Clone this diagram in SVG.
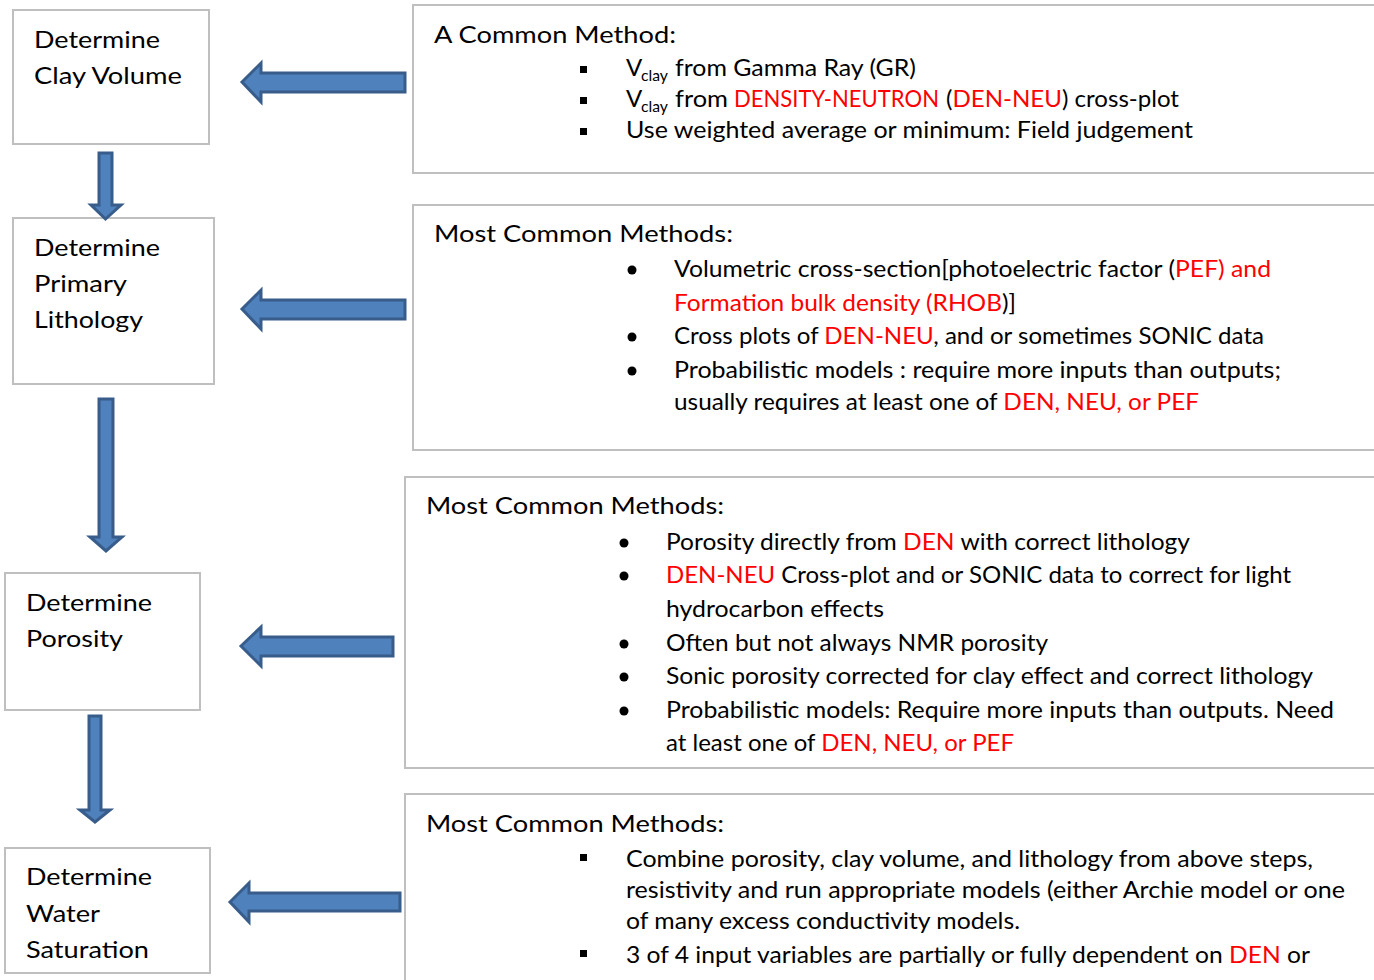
<svg xmlns="http://www.w3.org/2000/svg" width="1374" height="980" viewBox="0 0 1374 980">
  <style>
    .box { fill: #FFFFFF; stroke: #BFBFBF; stroke-width: 2; }
    .arrow { fill: #4F81BD; stroke: #385D8A; stroke-width: 3; stroke-linejoin: miter; }
    text { font-family: Lato, "Open Sans", "Liberation Sans", sans-serif; font-size: 24px; fill: #000000; }
    .sub { font-size: 16px; }
    .red { fill: #FF0000; }
    .sq { fill: #000000; }
  </style>
  <rect width="1374" height="980" fill="#FFFFFF"/>

  <!-- Process steps (left column) -->
  <g id="step-clay-volume">
    <rect class="box" x="13" y="10" width="196" height="134"/>
    <text x="34" y="48" textLength="126" lengthAdjust="spacingAndGlyphs">Determine</text>
    <text x="34" y="84" textLength="148" lengthAdjust="spacingAndGlyphs">Clay Volume</text>
  </g>
  <g id="step-lithology">
    <rect class="box" x="13" y="218" width="201" height="166"/>
    <text x="34" y="256" textLength="126" lengthAdjust="spacingAndGlyphs">Determine</text>
    <text x="34" y="292" textLength="93" lengthAdjust="spacingAndGlyphs">Primary</text>
    <text x="34" y="328" textLength="109" lengthAdjust="spacingAndGlyphs">Lithology</text>
  </g>
  <g id="step-porosity">
    <rect class="box" x="5" y="573" width="195" height="137"/>
    <text x="26" y="611" textLength="126" lengthAdjust="spacingAndGlyphs">Determine</text>
    <text x="26" y="647" textLength="97" lengthAdjust="spacingAndGlyphs">Porosity</text>
  </g>
  <g id="step-saturation">
    <rect class="box" x="5" y="848" width="205" height="125"/>
    <text x="26" y="885" textLength="126" lengthAdjust="spacingAndGlyphs">Determine</text>
    <text x="26" y="922" textLength="74" lengthAdjust="spacingAndGlyphs">Water</text>
    <text x="26" y="958" textLength="123" lengthAdjust="spacingAndGlyphs">Saturation</text>
  </g>

  <!-- Method notes (right column) -->
  <g id="methods-clay-volume">
    <rect class="box" x="413" y="5" width="980" height="168"/>
    <text x="434" y="43" textLength="242" lengthAdjust="spacingAndGlyphs">A Common Method:</text>
    <rect class="sq" x="580" y="66" width="7" height="7"/>
    <text x="626" y="76">V</text>
    <text class="sub" x="641" y="81" textLength="27" lengthAdjust="spacingAndGlyphs">clay</text>
    <text x="675" y="76" textLength="241" lengthAdjust="spacingAndGlyphs">from Gamma Ray (GR)</text>
    <rect class="sq" x="580" y="97" width="7" height="7"/>
    <text x="626" y="107">V</text>
    <text class="sub" x="641" y="112" textLength="27" lengthAdjust="spacingAndGlyphs">clay</text>
    <text x="675" y="107" textLength="53" lengthAdjust="spacingAndGlyphs">from</text>
    <text class="red" x="734" y="107" style="font-size:23px" textLength="205" lengthAdjust="spacingAndGlyphs">DENSITY-NEUTRON</text>
    <text x="946" y="107" textLength="233" lengthAdjust="spacingAndGlyphs">(<tspan class="red">DEN-NEU</tspan>) cross-plot</text>
    <rect class="sq" x="580" y="128" width="7" height="7"/>
    <text x="626" y="138" textLength="567" lengthAdjust="spacingAndGlyphs">Use weighted average or minimum: Field judgement</text>
  </g>

  <g id="methods-lithology">
    <rect class="box" x="413" y="205" width="980" height="245"/>
    <text x="434" y="242" textLength="299" lengthAdjust="spacingAndGlyphs">Most Common Methods:</text>
    <circle cx="632" cy="270" r="4.5"/>
    <text x="674" y="277" textLength="597" lengthAdjust="spacingAndGlyphs">Volumetric cross-section[photoelectric factor (<tspan class="red">PEF) and</tspan></text>
    <text x="674" y="311" textLength="342" lengthAdjust="spacingAndGlyphs"><tspan class="red">Formation bulk density (RHOB</tspan>)]</text>
    <circle cx="632" cy="337" r="4.5"/>
    <text x="674" y="344" textLength="590" lengthAdjust="spacingAndGlyphs">Cross plots of <tspan class="red">DEN-NEU</tspan>, and or sometimes SONIC data</text>
    <circle cx="632" cy="371" r="4.5"/>
    <text x="674" y="378" textLength="607" lengthAdjust="spacingAndGlyphs">Probabilistic models : require more inputs than outputs;</text>
    <text x="674" y="410" textLength="525" lengthAdjust="spacingAndGlyphs">usually requires at least one of <tspan class="red">DEN, NEU, or PEF</tspan></text>
  </g>

  <g id="methods-porosity">
    <rect class="box" x="405" y="477" width="990" height="291"/>
    <text x="426" y="514" textLength="298" lengthAdjust="spacingAndGlyphs">Most Common Methods:</text>
    <circle cx="624" cy="543" r="4.5"/>
    <text x="666" y="550" textLength="524" lengthAdjust="spacingAndGlyphs">Porosity directly from <tspan class="red">DEN</tspan> with correct lithology</text>
    <circle cx="624" cy="576" r="4.5"/>
    <text x="666" y="583" textLength="625" lengthAdjust="spacingAndGlyphs"><tspan class="red">DEN-NEU</tspan> Cross-plot and or SONIC data to correct for light</text>
    <text x="666" y="617" textLength="218" lengthAdjust="spacingAndGlyphs">hydrocarbon effects</text>
    <circle cx="624" cy="644" r="4.5"/>
    <text x="666" y="651" textLength="382" lengthAdjust="spacingAndGlyphs">Often but not always NMR porosity</text>
    <circle cx="624" cy="677" r="4.5"/>
    <text x="666" y="684" textLength="647" lengthAdjust="spacingAndGlyphs">Sonic porosity corrected for clay effect and correct lithology</text>
    <circle cx="624" cy="711" r="4.5"/>
    <text x="666" y="718" textLength="668" lengthAdjust="spacingAndGlyphs">Probabilistic models: Require more inputs than outputs. Need</text>
    <text x="666" y="751" textLength="348" lengthAdjust="spacingAndGlyphs">at least one of <tspan class="red">DEN, NEU, or PEF</tspan></text>
  </g>

  <g id="methods-saturation">
    <rect class="box" x="405" y="794" width="990" height="200"/>
    <text x="426" y="832" textLength="298" lengthAdjust="spacingAndGlyphs">Most Common Methods:</text>
    <rect class="sq" x="580" y="854" width="7" height="7"/>
    <text x="626" y="867" textLength="687" lengthAdjust="spacingAndGlyphs">Combine porosity, clay volume, and lithology from above steps,</text>
    <text x="626" y="898" textLength="719" lengthAdjust="spacingAndGlyphs">resistivity and run appropriate models (either Archie model or one</text>
    <text x="626" y="929" textLength="394" lengthAdjust="spacingAndGlyphs">of many excess conductivity models.</text>
    <rect class="sq" x="580" y="950" width="7" height="7"/>
    <text x="626" y="963" textLength="684" lengthAdjust="spacingAndGlyphs">3 of 4 input variables are partially or fully dependent on <tspan class="red">DEN</tspan> or</text>
  </g>

  <!-- Block arrows: methods feed steps, steps flow downward -->
  <g id="connectors">
    <path class="arrow" d="M242,82 L261,63 L261,73 L405,73 L405,92 L261,92 L261,102 Z"/>
    <path class="arrow" d="M242,309 L261,290 L261,300 L405,300 L405,319 L261,319 L261,329 Z"/>
    <path class="arrow" d="M241,646 L261,627 L261,637 L393,637 L393,656 L261,656 L261,666 Z"/>
    <path class="arrow" d="M230,902 L249,883 L249,893 L400,893 L400,911 L249,911 L249,922 Z"/>
    <path class="arrow" d="M99,153 L112,153 L112,205 L121,205 L105.5,219 L91,205 L99,205 Z"/>
    <path class="arrow" d="M99,399 L113,399 L113,537 L122,537 L106,551 L90,537 L99,537 Z"/>
    <path class="arrow" d="M89,716 L101,716 L101,810 L110,810 L95,822 L80,810 L89,810 Z"/>
  </g>
</svg>
